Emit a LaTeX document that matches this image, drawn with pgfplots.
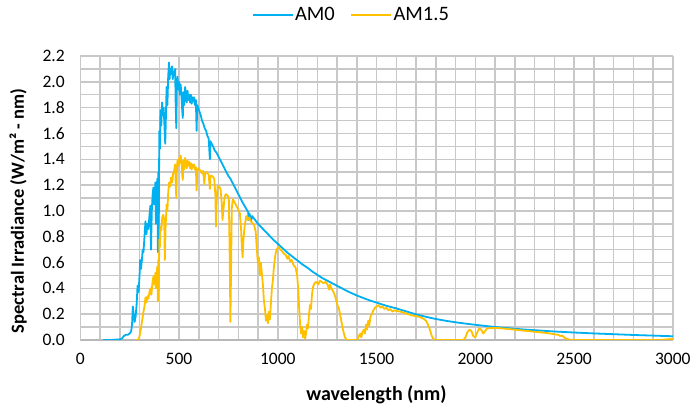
\documentclass[border=0pt]{standalone}
\usepackage{pgfplots}
\pgfplotsset{compat=1.18}
\usepackage{fontspec}
\setmainfont{Carlito}
\definecolor{amzero}{HTML}{00B0F0}
\definecolor{amone}{HTML}{FFC000}
\definecolor{gridc}{HTML}{C8C8C8}
\definecolor{axisc}{HTML}{B8B8B8}

\pgfplotstableread{
nm v
115 0
150 0
200 0.005
210 0.01
220 0.03
230 0.04
240 0.04
250 0.05
258 0.07
262 0.12
266 0.26
270 0.2
275 0.14
280 0.18
285 0.27
290 0.42
295 0.37
300 0.5
303 0.62
307 0.55
312 0.62
316 0.7
320 0.68
325 0.8
330 0.92
335 0.82
340 0.9
345 0.86
350 0.96
355 1.04
358 0.7
362 1.0
366 1.12
370 1.18
375 1.05
380 1.22
383 0.9
386 1.15
390 1.25
393 0.68
395 1.3
397 0.78
400 1.62
403 1.48
406 1.78
410 1.66
414 1.84
418 1.74
422 1.8
426 1.66
430 1.52
433 1.7
437 1.96
441 1.82
445 2.04
449 2.15
452 2.02
456 2.1
460 2.06
464 2.12
468 2.02
472 2.08
476 2.05
480 2.1
483 1.82
486 1.64
489 1.96
492 2.04
496 1.94
500 2.0
504 1.9
508 1.98
512 1.9
516 1.78
519 1.72
522 1.92
526 1.82
531 1.96
535 1.9
539 1.84
543 1.93
547 1.86
551 1.9
556 1.84
560 1.9
564 1.83
568 1.88
572 1.85
576 1.88
580 1.82
585 1.86
589 1.62
592 1.82
597 1.8
603 1.77
610 1.74
616 1.7
622 1.68
630 1.64
637 1.62
644 1.58
650 1.56
656 1.4
659 1.54
665 1.52
672 1.5
680 1.47
690 1.45
700 1.42
710 1.39
720 1.36
730 1.33
740 1.30
750 1.27
760 1.25
770 1.22
780 1.19
790 1.16
800 1.13
810 1.10
820 1.07
835 1.03
850 0.99
852 0.93
856 0.98
866 0.93
870 0.96
880 0.94
890 0.92
900 0.90
925 0.86
950 0.82
975 0.78
1000 0.745
1025 0.71
1050 0.675
1075 0.645
1100 0.615
1125 0.585
1150 0.56
1175 0.53
1200 0.505
1225 0.48
1250 0.46
1275 0.44
1300 0.42
1325 0.40
1350 0.38
1375 0.362
1400 0.345
1425 0.33
1450 0.315
1475 0.302
1500 0.29
1525 0.277
1550 0.265
1575 0.255
1600 0.245
1625 0.233
1650 0.222
1675 0.21
1700 0.199
1725 0.189
1750 0.18
1775 0.171
1800 0.163
1850 0.149
1900 0.137
1950 0.127
2000 0.118
2050 0.109
2100 0.101
2150 0.094
2200 0.087
2250 0.081
2300 0.076
2350 0.071
2400 0.066
2450 0.062
2500 0.058
2600 0.051
2700 0.045
2800 0.039
2900 0.034
3000 0.029
}\amzerotab

\pgfplotstableread{
nm v
280 0
290 0
295 0.005
300 0.03
305 0.07
310 0.12
315 0.17
320 0.22
325 0.26
330 0.33
335 0.29
340 0.34
345 0.32
350 0.37
355 0.40
360 0.35
365 0.44
370 0.49
375 0.43
380 0.52
383 0.40
386 0.50
390 0.57
393 0.30
395 0.62
397 0.38
400 0.78
403 0.72
406 0.88
410 0.85
415 0.95
420 0.97
425 0.93
428 0.62
432 0.88
437 1.05
441 1.00
445 1.14
450 1.22
455 1.19
460 1.26
465 1.22
470 1.29
475 1.31
480 1.36
483 1.22
486 1.10
489 1.31
492 1.39
496 1.35
500 1.41
504 1.37
508 1.43
512 1.38
516 1.28
519 1.24
522 1.39
526 1.32
531 1.41
535 1.37
539 1.33
543 1.39
547 1.35
551 1.38
556 1.33
560 1.37
564 1.32
568 1.36
572 1.34
576 1.36
580 1.32
585 1.34
589 1.16
592 1.30
597 1.33
603 1.32
610 1.31
616 1.29
622 1.31
628 1.21
632 1.29
640 1.30
650 1.28
656 1.17
659 1.27
668 1.27
678 1.25
684 1.12
687 0.88
690 1.05
695 1.19
702 1.19
710 1.17
716 1.06
720 0.93
724 1.00
730 1.10
736 1.13
745 1.12
752 1.10
757 0.6
760 0.14
763 0.5
767 1.02
772 1.09
780 1.07
790 1.04
800 1.01
808 0.98
814 0.86
818 0.72
822 0.64
826 0.78
832 0.88
840 0.96
848 0.93
855 0.95
862 0.92
870 0.91
880 0.89
888 0.84
894 0.70
899 0.60
904 0.64
909 0.50
914 0.60
919 0.52
925 0.42
930 0.30
935 0.24
940 0.15
945 0.19
950 0.13
955 0.22
960 0.16
965 0.28
970 0.40
975 0.46
980 0.56
985 0.63
990 0.68
997 0.71
1005 0.72
1012 0.70
1020 0.69
1030 0.67
1040 0.66
1048 0.63
1055 0.65
1062 0.61
1070 0.62
1080 0.58
1090 0.56
1098 0.50
1104 0.38
1108 0.25
1113 0.12
1118 0.05
1123 0.10
1128 0.02
1133 0.07
1138 0.01
1143 0.05
1148 0.12
1153 0.09
1158 0.20
1163 0.27
1168 0.24
1173 0.35
1178 0.41
1186 0.44
1195 0.45
1205 0.43
1213 0.46
1222 0.45
1232 0.44
1242 0.45
1252 0.43
1260 0.39
1265 0.43
1270 0.40
1280 0.38
1290 0.34
1300 0.28
1310 0.24
1320 0.16
1330 0.08
1340 0.02
1350 0
1400 0
1405 0.01
1410 0.03
1418 0.05
1423 0.02
1428 0.06
1436 0.08
1441 0.05
1447 0.12
1452 0.08
1458 0.15
1463 0.11
1469 0.18
1476 0.20
1484 0.23
1492 0.25
1500 0.26
1510 0.27
1520 0.25
1530 0.26
1540 0.24
1550 0.25
1560 0.23
1570 0.24
1580 0.22
1590 0.23
1600 0.225
1620 0.22
1640 0.21
1660 0.20
1680 0.19
1700 0.185
1720 0.178
1740 0.162
1750 0.15
1760 0.12
1770 0.08
1780 0.03
1790 0.005
1800 0
1940 0
1950 0.02
1960 0.06
1970 0.08
1980 0.07
1990 0.03
2000 0.02
2010 0.06
2020 0.09
2030 0.08
2040 0.05
2050 0.07
2060 0.09
2080 0.092
2100 0.093
2120 0.092
2150 0.088
2200 0.080
2250 0.072
2300 0.064
2350 0.056
2380 0.050
2400 0.045
2420 0.040
2430 0.030
2440 0.035
2450 0.020
2460 0.010
2480 0.002
2500 0
2940 0
2960 0.004
2980 0.006
3000 0.008
}\amonetab

\begin{document}
\begin{tikzpicture}
\useasboundingbox (-80.3bp,-69bp) rectangle (610.7bp,340bp);
\begin{axis}[
  scale only axis, width=592.5bp, height=284bp,
  xmin=0, xmax=3000, ymin=0, ymax=2.2,
  xtick={0,500,1000,1500,2000,2500,3000}, minor x tick num=4,
  ytick={0,0.2,0.4,0.6,0.8,1.0,1.2,1.4,1.6,1.8,2.0,2.2}, minor y tick num=1,
  grid=both,
  major grid style={draw=gridc, line width=1.5bp},
  minor grid style={draw=gridc, line width=1.5bp},
  major tick length=0pt, minor tick length=0pt,
  axis x line*=bottom, axis y line*=left,
  x axis line style={draw=axisc, line width=1.5bp},
  y axis line style={draw=gridc, line width=1.5bp},
  scaled ticks=false,
  xticklabel style={font=\fontsize{17.5bp}{20bp}\selectfont, yshift=-10bp,
    /pgf/number format/assume math mode=true, /pgf/number format/1000 sep={}},
  yticklabel style={font=\fontsize{17.5bp}{20bp}\selectfont, xshift=-12bp,
    /pgf/number format/assume math mode=true, /pgf/number format/fixed,
    /pgf/number format/fixed zerofill, /pgf/number format/precision=1},
  xlabel={wavelength (nm)},
  xlabel style={font=\bfseries\fontsize{20bp}{22bp}\selectfont,
    at={(axis description cs:0.5,-0.194)}, anchor=center},
  ylabel={Spectral Irradiance (W/m² - nm)},
  ylabel style={font=\bfseries\fontsize{18.5bp}{20bp}\selectfont,
    at={(axis description cs:-0.1051,0.454)}, anchor=center},
  legend columns=-1,
  legend style={draw=none, fill=none, at={(axis description cs:0.457,1.145)},
    anchor=center, font=\fontsize{20.5bp}{22bp}\selectfont,
    /tikz/every even column/.append style={column sep=14bp},
    nodes={inner sep=1.5bp}},
  legend image code/.code={\draw[#1] (0bp,0bp) -- (40bp,0bp);},
  every axis plot/.append style={line width=1.8bp, line join=round},
]
\addplot[amzero] table[x=nm, y=v] {\amzerotab};
\addlegendentry{AM0}
\addplot[amone] table[x=nm, y=v] {\amonetab};
\addlegendentry{AM1.5}
\end{axis}
\end{tikzpicture}
\end{document}
